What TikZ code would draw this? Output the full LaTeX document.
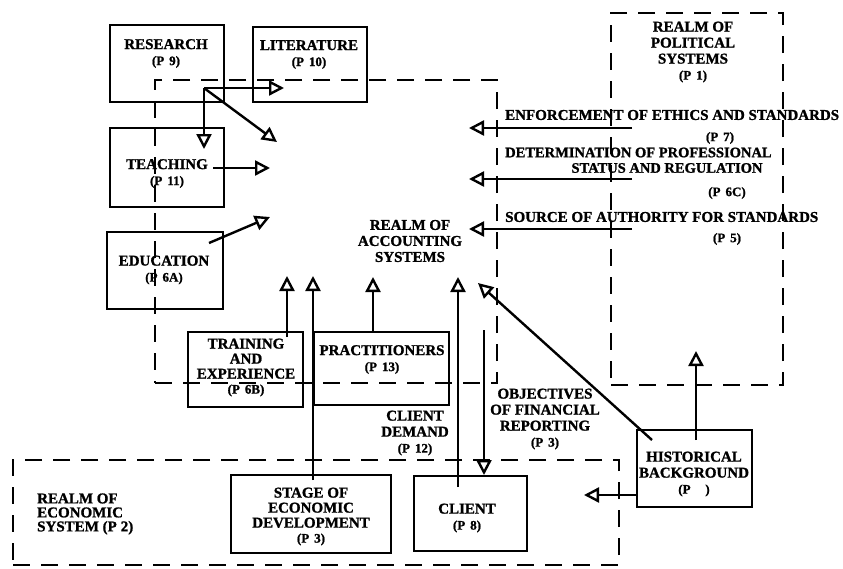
\documentclass[tikz,border=0pt]{standalone}
\usepackage{fontspec}
\setmainfont{Liberation Serif}[BoldFeatures={FakeBold=1.2}]
\usetikzlibrary{arrows.meta,calc}
% reference number in parentheses, set a little smaller and loosely spaced
\newcommand\pnr[1]{{\fontsize{13}{16}\selectfont (P\hspace{5pt}#1)}}
\begin{document}
\begin{tikzpicture}[x=1pt,y=-1pt,
  solidbox/.style={draw, line width=2.5pt, rectangle, inner sep=0pt, outer sep=0pt},
  realm/.style={draw, line width=2.3pt, dash pattern=on 17pt off 11pt, rectangle, inner sep=0pt, outer sep=0pt},
  txt/.style={font=\bfseries\fontsize{15}{16}\selectfont, align=center, inner sep=0pt},
  tight/.style={font=\bfseries\fontsize{15}{15}\selectfont},
  pn/.style={font=\bfseries\fontsize{13}{14}\selectfont, inner sep=0pt},
  link/.style={line width=2.4pt, -{Triangle[open, length=15pt, width=15pt, line width=2.4pt]}}
]
\fill[white] (0,0) rectangle (843,568);
\useasboundingbox (0,0) rectangle (843,568);

% realms (dashed)
\node[realm, minimum width=342pt, minimum height=303pt] (acct) at (326,231.5) {};
\node[realm, minimum width=172pt, minimum height=372pt] (pol) at (697,199) {};
\node[realm, minimum width=606pt, minimum height=105pt] (econ) at (316,512.5) {};

% boxes
\node[solidbox, minimum width=114pt, minimum height=77pt] (research) at (167,63.5) {};
\node[solidbox, minimum width=114pt, minimum height=75pt] (literature) at (310,64.5) {};
\node[solidbox, minimum width=114pt, minimum height=79pt] (teaching) at (167,167.5) {};
\node[solidbox, minimum width=116pt, minimum height=77pt] (education) at (165,270.5) {};
\node[solidbox, minimum width=115pt, minimum height=75pt] (training) at (245.5,369.5) {};
\node[solidbox, minimum width=135pt, minimum height=73pt] (practitioners) at (381.5,368.5) {};
\node[solidbox, minimum width=160pt, minimum height=78pt] (stage) at (311,514) {};
\node[solidbox, minimum width=113pt, minimum height=75pt] (client) at (470.5,513.5) {};
\node[solidbox, minimum width=115pt, minimum height=77pt] (historical) at (694.5,468.5) {};

% arrow tips and free ends
\coordinate (rj) at (204,88);
\coordinate (litTip) at (284,88);
\coordinate (teachTip) at (204,149);
\coordinate (resTip) at (277,142);
\coordinate (teachOutTip) at (270,168);
\coordinate (eduTip) at (270,217);
\coordinate (trainTip) at (287,276);
\coordinate (stageTip) at (313,276);
\coordinate (practTip) at (373,277);
\coordinate (clientTip) at (458,277);
\coordinate (objTop) at (484,330);
\coordinate (histUpTip) at (696,351);
\coordinate (histDiagTip) at (478,283);
\coordinate (histLeftTip) at (584,495);
\coordinate (enfStart) at (632,128);
\coordinate (enfTip) at (469,128);
\coordinate (detStart) at (632,179);
\coordinate (detTip) at (469,179);
\coordinate (srcStart) at (632,229);
\coordinate (srcTip) at (469,229);

% connectors
\draw[link] (rj) -- (litTip);
\draw[link] (rj) -- (teachTip);
\draw[link] (rj) -- (resTip);
\draw[link] ($(teaching.east)+(-11,0.5)$) -- (teachOutTip);
\draw[link] ($(education.north east)+(-14,11)$) -- (eduTip);
\draw[link] ($(training.north)+(41.5,5)$) -- (trainTip);
\draw[link] ($(stage.north)+(2,5)$) -- (stageTip);
\draw[link] (practitioners.north -| practTip) -- (practTip);
\draw[link] ($(client.north)+(-12.5,11)$) -- (clientTip);
\draw[link] (objTop) -- ($(objTop |- client.north)+(0,-1)$);
\draw[link] ($(historical.north)+(1.5,10)$) -- (histUpTip);
\draw[link] ($(historical.north west)+(15,10)$) -- (histDiagTip);
\draw[link] ($(historical.south west)+(0,-12)$) -- (histLeftTip);
\draw[link] (enfStart) -- (enfTip);
\draw[link] (detStart) -- (detTip);
\draw[link] (srcStart) -- (srcTip);

% labels
\node[txt] (researchT) at (166,53.5) {RESEARCH\\\pnr{9}};
\node[txt] (literatureT) at (309,54.5) {LITERATURE\\\pnr{10}};
\node[txt] (teachingT) at (167,173.5) {TEACHING\\\pnr{11}};
\node[txt] (educationT) at (164,270) {EDUCATION\\\pnr{6A}};
\node[txt, tight] (trainingT) at (246,367.5) {TRAINING\\AND\\EXPERIENCE\\\pnr{6B}};
\node[txt] (practT) at (382,359.5) {PRACTITIONERS\\\pnr{13}};
\node[txt, tight] (stageT) at (311,516.5) {STAGE OF\\ECONOMIC\\DEVELOPMENT\\\pnr{3}};
\node[txt] (clientT) at (467,518) {CLIENT\\\pnr{8}};
\node[txt] (histT) at (694,474) {HISTORICAL\\BACKGROUND\\\pnr{\ \ \ }};
\node[txt, align=left, anchor=west, font=\bfseries\fontsize{15}{14}\selectfont] (econT) at (37,514) {REALM OF\\ECONOMIC\\SYSTEM (P\hspace{4pt}2)};
\node[txt] (acctT) at (410,241) {REALM OF\\ACCOUNTING\\SYSTEMS};
\node[txt] (polT) at (693,52) {REALM OF\\POLITICAL\\SYSTEMS\\\pnr{1}};
\node[txt] (demandT) at (415,433) {CLIENT\\DEMAND\\\pnr{12}};
\node[txt] (objT) at (545,419) {OBJECTIVES\\OF FINANCIAL\\REPORTING\\\pnr{3}};
\node[txt, anchor=west] (enfT) at (505,115) {ENFORCEMENT OF ETHICS AND STANDARDS};
\node[pn] (enfP) at (720,138) {(P\hspace{5pt}7)};
\node[txt, anchor=west, font=\bfseries\fontsize{14.5}{15}\selectfont] (detT) at (505,152.5) {DETERMINATION OF PROFESSIONAL};
\node[txt, font=\bfseries\fontsize{14.5}{15}\selectfont] (detT2) at (667,168) {STATUS AND REGULATION};
\node[pn] (detP) at (727,193) {(P\hspace{5pt}6C)};
\node[txt, anchor=west] (srcT) at (505,217) {SOURCE OF AUTHORITY FOR STANDARDS};
\node[pn] (srcP) at (727,239) {(P\hspace{5pt}5)};
\end{tikzpicture}
\end{document}
